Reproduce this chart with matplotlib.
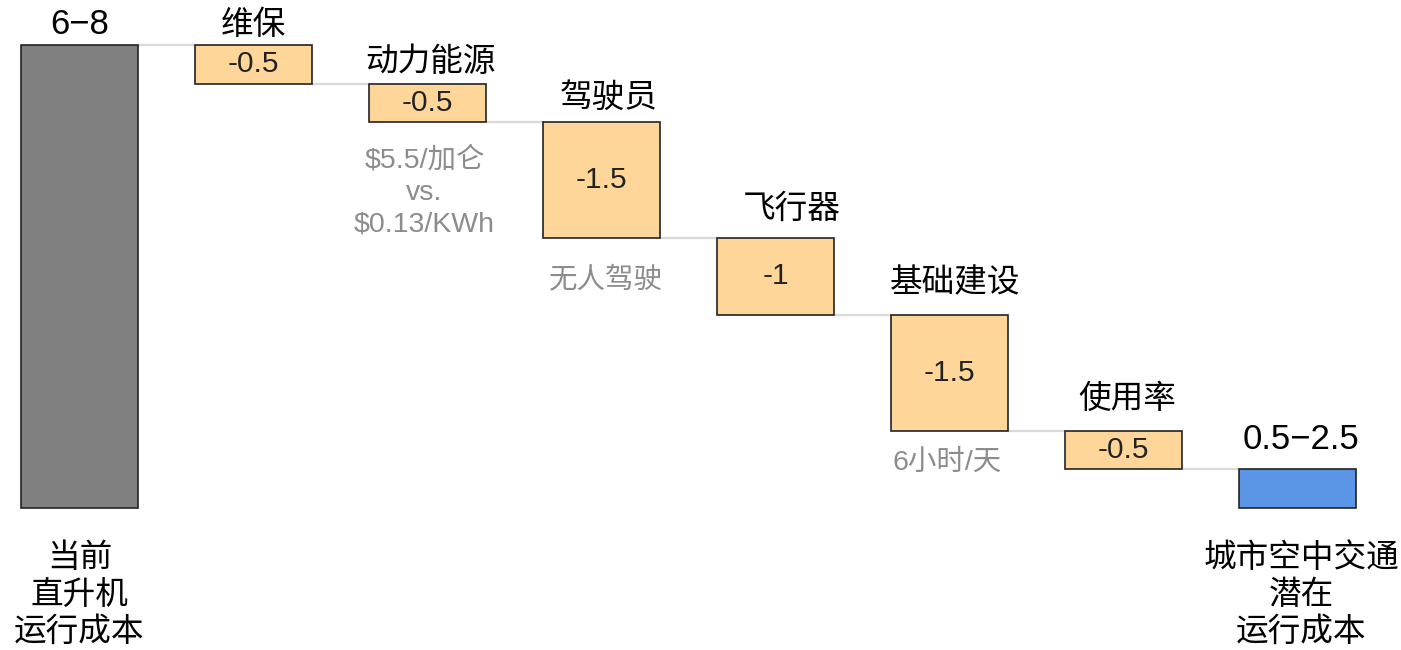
import numpy as np
import matplotlib.pyplot as plt

plt.rcParams['font.family'] = ['Liberation Sans', 'Noto Sans CJK SC', 'DejaVu Sans']

# 成本瀑布图：直升机运行成本 -> 城市空中交通潜在运行成本
start_value = 6
start_range = '6−8'
start_name = '当前\n直升机\n运行成本'
steps = ['维保', '动力能源', '驾驶员', '飞行器', '基础建设', '使用率']
deltas = [-0.5, -0.5, -1.5, -1, -1.5, -0.5]
end_range = '0.5−2.5'
end_name = '城市空中交通\n潜在\n运行成本'
notes = {'动力能源': '$5.5/加仑\nvs.\n$0.13/KWh',
         '驾驶员': '无人驾驶',
         '基础建设': '6小时/天'}

# 标签微调（像素）
step_label_off = [(0, 4), (3, 6), (7, 8), (16, 13), (6, 16), (4, 16)]
note_off = {'动力能源': (-3, -70), '驾驶员': (4, -42), '基础建设': (-2, -32)}

gray = '#808080'
orange = '#FFD699'
blue = '#5B95E5'
edge = '#222222'
line_gray = '#d9d9d9'
note_gray = '#8c8c8c'

levels = start_value + np.cumsum(deltas)
end_value = levels[-1]
n = len(steps) + 2
x = np.arange(n)
w = 0.667

fig = plt.figure(figsize=(14.01, 6.5), dpi=100)
ax = fig.add_axes([0, 0, 1, 1])
ax.set_xlim(-0.457, 7.595)
ax.set_ylim(-1.84, 6.583)
ax.axis('off')

# 首尾柱
ax.bar(x[0], start_value, w, color=gray, edgecolor=edge, linewidth=1.2, zorder=3)
ax.bar(x[-1], end_value, w, color=blue, edgecolor=edge, linewidth=1.2, zorder=3)
# 中间的下降柱
ax.bar(x[1:-1], -np.array(deltas), w, bottom=levels, color=orange,
       edgecolor=edge, linewidth=1.2, zorder=3)

# 连接线
conn = np.concatenate([[start_value], levels])
for i in range(n - 1):
    ax.plot([x[i] + w / 2, x[i + 1] - w / 2], [conn[i], conn[i]],
            color=line_gray, lw=1.6, zorder=1, solid_capstyle='butt')

# 首尾数值范围
ax.annotate(start_range, (x[0], start_value), xytext=(0, 4), textcoords='offset pixels',
            ha='center', va='bottom', fontsize=25)
ax.annotate(end_range, (x[-1], end_value), xytext=(4, 13), textcoords='offset pixels',
            ha='center', va='bottom', fontsize=25)

# 首尾名称
ax.annotate(start_name, (x[0], 0), xytext=(0, -87), textcoords='offset pixels',
            ha='center', va='center', fontsize=23.5, linespacing=1.25)
ax.annotate(end_name, (x[-1], 0), xytext=(4, -87), textcoords='offset pixels',
            ha='center', va='center', fontsize=23.5, linespacing=1.25)

for i, (name, d) in enumerate(zip(steps, deltas)):
    xi = x[i + 1]
    top = levels[i] - d
    ax.annotate(name, (xi, top), xytext=step_label_off[i], textcoords='offset pixels',
                ha='center', va='bottom', fontsize=23.5)
    ax.text(xi, levels[i] - d / 2, f'{d:g}', ha='center', va='center',
            fontsize=21.5, color='#222222', zorder=4)
    if name in notes:
        ax.annotate(notes[name], (xi, levels[i]), xytext=note_off[name],
                    textcoords='offset pixels', ha='center', va='center',
                    fontsize=20.5, color=note_gray, linespacing=1.3,
                    annotation_clip=False).set_parse_math(False)

fig.savefig('out.png', dpi=100)
